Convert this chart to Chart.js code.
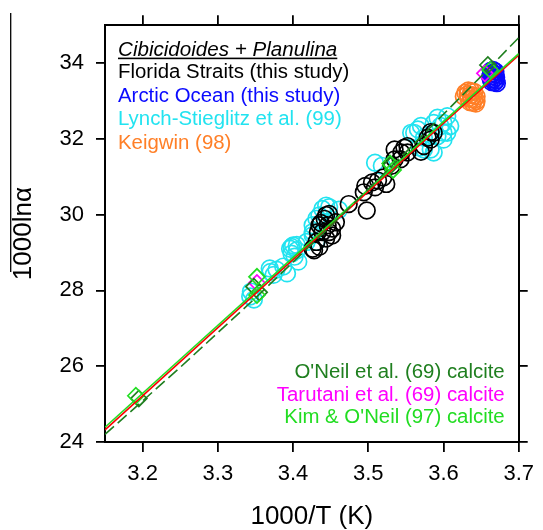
<!DOCTYPE html>
<html>
<head>
<meta charset="utf-8">
<script src="https://cdn.jsdelivr.net/npm/chart.js@4/dist/chart.umd.min.js"></script>
<style>
    html, body { margin: 0; padding: 0; background: #fff; }
</style>
</head>
<body>
<canvas id="myChart" width="543" height="530"></canvas>
<script>
// axis ticks
const xTicks = [3.2, 3.3, 3.4, 3.5, 3.6, 3.7];
const yTicks = [24, 26, 28, 30, 32, 34];

// foram data, [1000/T, 1000ln(alpha)]
const floridaStraits = [
    [3.426, 29.10], [3.435, 29.15], [3.428, 29.06], [3.431, 29.28], [3.433, 29.54],
    [3.435, 29.72], [3.437, 29.78], [3.439, 29.54], [3.442, 29.89], [3.444, 29.99],
    [3.444, 29.37], [3.446, 29.72], [3.448, 29.54], [3.448, 30.02], [3.452, 29.45],
    [3.452, 29.63], [3.457, 29.80], [3.474, 30.28], [3.498, 30.11], [3.494, 30.59],
    [3.496, 30.76], [3.505, 30.85], [3.509, 30.72], [3.513, 30.90], [3.520, 30.98],
    [3.524, 30.81], [3.531, 31.29], [3.535, 31.46], [3.535, 31.72], [3.543, 31.46],
    [3.544, 31.64], [3.548, 31.77], [3.552, 31.64], [3.552, 31.81], [3.570, 31.66],
    [3.574, 31.81], [3.579, 32.03], [3.583, 31.98], [3.583, 32.18], [3.587, 32.16]
];
const arcticOcean = [
    [3.663, 33.80], [3.666, 33.82], [3.669, 33.78], [3.663, 33.72], [3.666, 33.74],
    [3.669, 33.70], [3.662, 33.64], [3.666, 33.66], [3.670, 33.62], [3.663, 33.57],
    [3.667, 33.58], [3.670, 33.54], [3.664, 33.50], [3.668, 33.49], [3.671, 33.47]
];
const lynchStieglitz = [
    [3.343, 27.84], [3.348, 27.76], [3.344, 27.97], [3.369, 28.58], [3.374, 28.41],
    [3.378, 28.55], [3.370, 28.49], [3.387, 28.63], [3.392, 28.45], [3.396, 29.10],
    [3.398, 29.15], [3.400, 29.19], [3.405, 29.20], [3.405, 29.06], [3.398, 28.97],
    [3.402, 28.89], [3.407, 28.76], [3.418, 29.28], [3.426, 29.54], [3.426, 29.46],
    [3.426, 29.72], [3.431, 29.89], [3.431, 29.28], [3.435, 29.98], [3.439, 30.15],
    [3.444, 30.24], [3.448, 30.20], [3.461, 30.13], [3.509, 31.37], [3.518, 31.29],
    [3.557, 32.16], [3.561, 32.16], [3.566, 32.25], [3.570, 32.34], [3.574, 31.72],
    [3.583, 31.72], [3.568, 31.77], [3.574, 32.03], [3.587, 31.64], [3.587, 32.42],
    [3.592, 32.07], [3.592, 32.56], [3.596, 32.34], [3.600, 32.42], [3.600, 31.98],
    [3.600, 32.16], [3.605, 32.16], [3.605, 32.60], [3.609, 32.34]
];
const keigwin = [
    [3.633, 33.28], [3.637, 33.26], [3.641, 33.24], [3.632, 33.18], [3.636, 33.16],
    [3.640, 33.14], [3.644, 33.12], [3.633, 33.07], [3.637, 33.05], [3.641, 33.03],
    [3.644, 33.00], [3.635, 32.97], [3.639, 32.95], [3.643, 32.93], [3.627, 33.12],
    [3.629, 33.22]
];

// inorganic calcite data
const oneilPts = [[3.195, 25.15], [3.348, 28.10], [3.355, 27.95], [3.530, 31.30], [3.659, 33.95]];
const tarutaniPts = [[3.352, 28.20], [3.655, 33.73]];
const kimPts = [[3.191, 25.22], [3.352, 28.36], [3.352, 27.88], [3.529, 31.35], [3.533, 31.18], [3.662, 33.82]];

// equations
const fitX = [3.15, 3.7];
const fitY = [24.32, 34.21];
const kimX = [3.15, 3.7];
const kimY = [24.39, 34.25];
const oneilX = [3.15, 3.25, 3.35, 3.45, 3.55, 3.65, 3.7];
const oneilY = [24.20, 25.97, 27.80, 29.70, 31.65, 33.65, 34.67];

// legend text
const topHeading = 'Cibicidoides + Planulina';
const topLabels = ['Florida Straits (this study)', 'Arctic Ocean (this study)', 'Lynch-Stieglitz et al. (99)', 'Keigwin (98)'];
const topColors = ['#000000', '#0a0aff', '#22e3f0', '#ff7f27'];
const bottomLabels = ["O'Neil et al. (69) calcite", 'Tarutani et al. (69) calcite', "Kim & O'Neil (97) calcite"];
const bottomColors = ['#1f7f1f', '#ff00ff', '#22dd22'];

const FONT = '"Liberation Sans", Arial, sans-serif';

const toXY = arr => arr.map(p => ({ x: p[0], y: p[1] }));
const zipXY = (xs, ys) => xs.map((x, i) => ({ x: x, y: ys[i] }));

const pointSet = (label, data, color, style, order) => ({
    label: label,
    data: toXY(data),
    pointStyle: style,
    pointRadius: style === 'circle' ? 8.3 : 8,
    pointBorderWidth: 1.7,
    pointBorderColor: color,
    pointBackgroundColor: 'rgba(0,0,0,0)',
    showLine: false,
    order: order
});

const lineSet = (label, data, color, dash, order) => ({
    label: label,
    data: data,
    showLine: true,
    borderColor: color,
    borderWidth: 1.6,
    borderDash: dash,
    pointRadius: 0,
    fill: false,
    order: order
});

// slightly wide text, like the source figure
const wideText = (ctx, text, x, y, align, sx) => {
    ctx.save();
    ctx.translate(x, y);
    ctx.scale(sx, 1);
    ctx.textAlign = align;
    ctx.fillText(text, 0, 0);
    const w = ctx.measureText(text).width * sx;
    ctx.restore();
    return w;
};

// text inside the plot + the bar over the y title
const notes = {
    id: 'notes',
    afterDraw(chart) {
        const ctx = chart.ctx;
        const a = chart.chartArea;
        ctx.save();
        ctx.textBaseline = 'alphabetic';

        // upper left
        ctx.font = 'italic 20px ' + FONT;
        ctx.fillStyle = '#000';
        const lx = a.left + 13;
        const w = wideText(ctx, topHeading, lx, 56, 'left', 1.03);
        ctx.fillRect(lx, 57.6, w, 1.6);
        ctx.font = '20px ' + FONT;
        topLabels.forEach((t, i) => {
            ctx.fillStyle = topColors[i];
            wideText(ctx, t, lx, 78 + i * 23.5, 'left', 1.02);
        });

        // lower right
        bottomLabels.forEach((t, i) => {
            ctx.fillStyle = bottomColors[i];
            wideText(ctx, t, a.right - 14, 378 + i * 22.7, 'right', 1.02);
        });

        // bar over the y title
        ctx.strokeStyle = '#000';
        ctx.lineWidth = 1.3;
        ctx.beginPath();
        ctx.moveTo(10.7, 13);
        ctx.lineTo(10.7, 272);
        ctx.stroke();
        ctx.restore();
    }
};

const tickGrid = {
    display: true,
    drawOnChartArea: false,
    drawTicks: true,
    tickLength: 9,
    color: '#000',
    lineWidth: 1.8
};
const frame = { display: true, color: '#000', width: 2 };

let ctx = document.getElementById('myChart').getContext('2d');
let myChart = new Chart(ctx, {
    type: 'scatter',
    data: {
        datasets: [
            lineSet('fit', zipXY(fitX, fitY), '#ff0000', [], 2),
            lineSet('Kim & O\'Neil eq', zipXY(kimX, kimY), '#22dd22', [], 1),
            lineSet('O\'Neil eq', zipXY(oneilX, oneilY), '#1f7f1f', [12, 5], 0),
            pointSet('Kim & O\'Neil', kimPts, '#22dd22', 'rectRot', 3),
            pointSet('Tarutani', tarutaniPts, '#ff00ff', 'rectRot', 5),
            pointSet('O\'Neil', oneilPts, '#1f7f1f', 'rectRot', 4),
            pointSet('Florida Straits', floridaStraits, '#000000', 'circle', 6),
            pointSet('Arctic Ocean', arcticOcean, '#0a0aff', 'circle', 7),
            pointSet('Keigwin', keigwin, '#ff7f27', 'circle', 8),
            pointSet('Lynch-Stieglitz', lynchStieglitz, '#22e3f0', 'circle', 9)
        ]
    },
    options: {
        responsive: false,
        animation: false,
        layout: { padding: 0 },
        plugins: {
            legend: { display: false },
            tooltip: { enabled: false }
        },
        scales: {
            x: {
                type: 'linear',
                position: 'bottom',
                min: 3.15,
                max: 3.7,
                afterBuildTicks: s => { s.ticks = xTicks.map(v => ({ value: v })); },
                afterFit: s => { s.height = 88; },
                ticks: {
                    callback: v => v.toFixed(1),
                    color: '#000',
                    font: { size: 22, family: FONT },
                    padding: 9,
                    maxRotation: 0
                },
                grid: Object.assign({}, tickGrid, { tickLength: 10 }),
                border: frame,
                title: {
                    display: true,
                    text: '1000/T (K)',
                    color: '#000',
                    font: { size: 26, family: FONT, lineHeight: 1 },
                    padding: { top: 0, bottom: 0 }
                }
            },
            xTop: {
                type: 'linear',
                position: 'top',
                min: 3.15,
                max: 3.7,
                afterBuildTicks: s => { s.ticks = xTicks.map(v => ({ value: v })); },
                afterFit: s => { s.height = 23; },
                ticks: { display: false },
                grid: Object.assign({}, tickGrid, { tickLength: 10 }),
                border: frame
            },
            y: {
                type: 'linear',
                position: 'left',
                min: 24,
                max: 35,
                afterBuildTicks: s => { s.ticks = yTicks.map(v => ({ value: v })); },
                afterFit: s => { s.width = 105; },
                ticks: {
                    color: '#000',
                    font: { size: 22, family: FONT },
                    padding: 12
                },
                grid: tickGrid,
                border: frame,
                title: {
                    display: true,
                    text: '1000lnα',
                    color: '#000',
                    font: { size: 26, family: FONT, lineHeight: 1.2 },
                    padding: { top: 8, bottom: 0 }
                }
            },
            yRight: {
                type: 'linear',
                position: 'right',
                min: 24,
                max: 35,
                afterBuildTicks: s => { s.ticks = yTicks.map(v => ({ value: v })); },
                afterFit: s => { s.width = 17; },
                ticks: { display: false },
                grid: tickGrid,
                border: frame
            }
        }
    },
    plugins: [notes]
});
</script>
</body>
</html>
